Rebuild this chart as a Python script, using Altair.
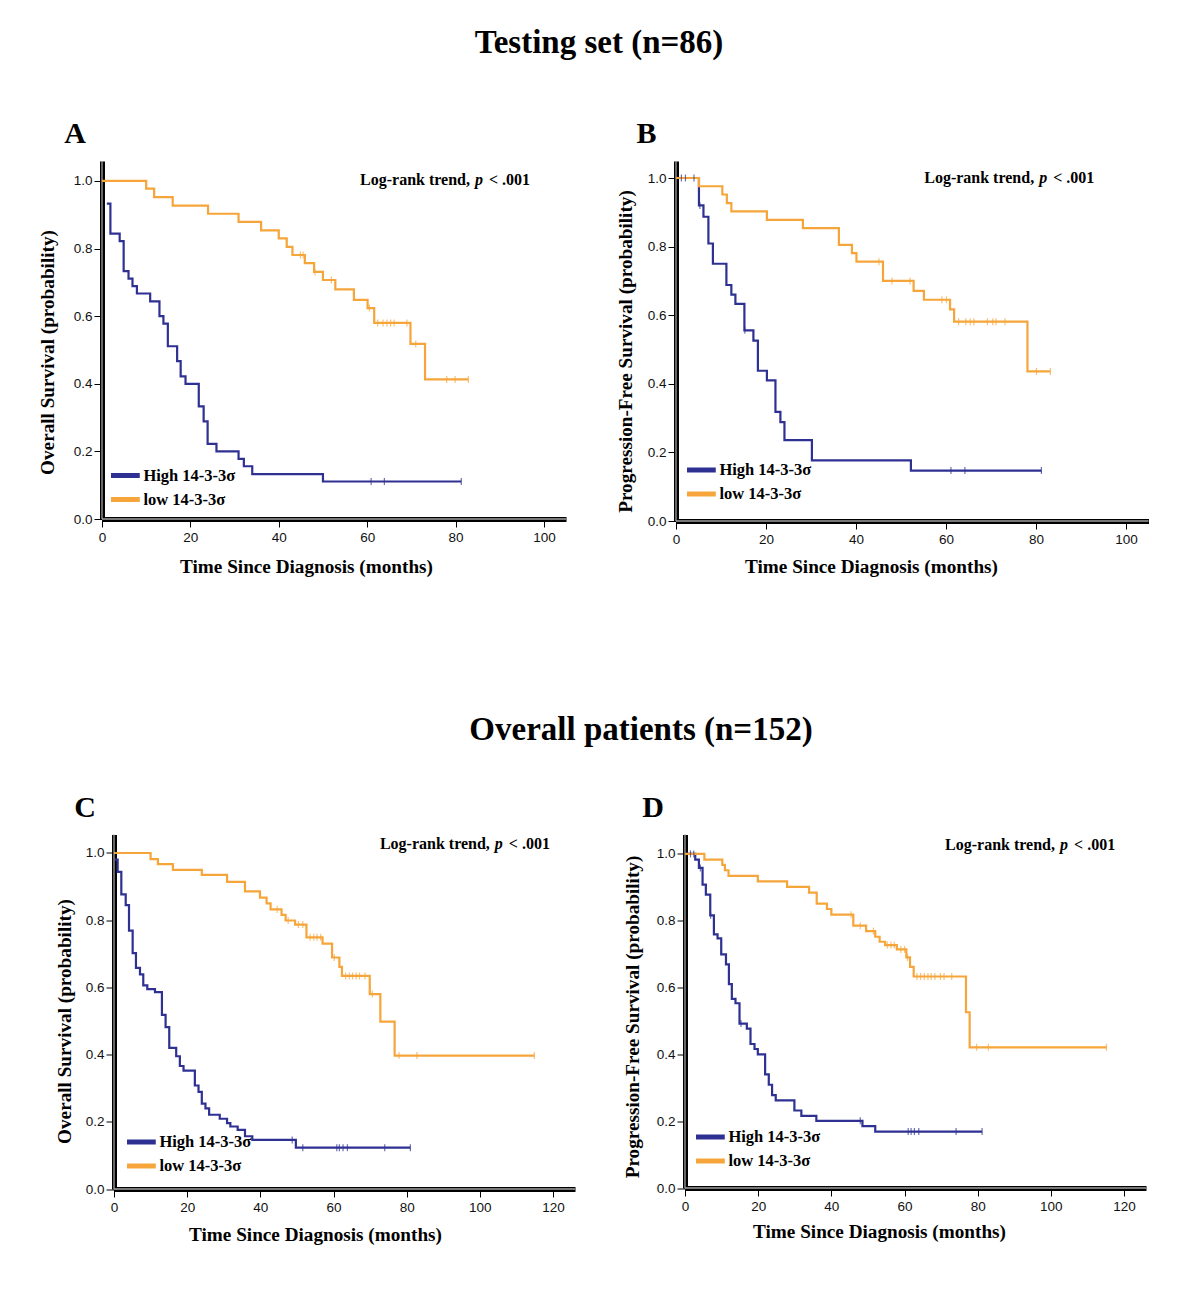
import altair as alt
import pandas as pd

GROUPS = ["High 14-3-3σ", "low 14-3-3σ"]
LINE_COLORS = ["#2e3192", "#f5a53a"]
SERIF = "Liberation Serif"
SANS = "Liberation Sans"

# ---------------- Panel A : Testing set, Overall survival ----------------
A_HIGH_T = [1.1, 1.9, 4.0, 4.9, 6.0, 6.9, 7.9, 10.9, 13.0, 13.9, 14.9, 17.0, 17.8, 18.9,
            21.9, 23.0, 23.9, 25.9, 30.9, 32.1, 34.0, 50.0]
A_HIGH_S = [0.933, 0.844, 0.822, 0.733, 0.711, 0.689, 0.667, 0.644, 0.600, 0.578, 0.511,
            0.467, 0.422, 0.400, 0.333, 0.289, 0.222, 0.200, 0.178, 0.156, 0.133, 0.111]
A_HIGH_END = 81.3
A_HIGH_CENS = [60.9, 63.9, 81.3]
A_LOW_T = [0, 10.0, 11.8, 16.0, 24.0, 30.9, 36.0, 40.0, 41.8, 43.1, 45.9, 48.0, 50.0, 52.8,
           57.0, 60.1, 61.6, 69.8, 73.1]
A_LOW_S = [1.0, 0.977, 0.952, 0.927, 0.903, 0.879, 0.854, 0.830, 0.805, 0.781, 0.757, 0.731,
           0.707, 0.679, 0.648, 0.624, 0.580, 0.518, 0.413]
A_LOW_END = 82.9
A_LOW_CENS = [44.9, 45.5, 48.2, 51.9, 60.5, 62.4, 63.6, 64.5, 65.3, 66.1, 69.0, 71.0, 78.0,
              79.9, 82.9]

# ---------------- Panel B : Testing set, Progression-free survival ----------------
B_HIGH_T = [0, 5.1, 6.1, 7.2, 8.2, 11.2, 12.3, 13.2, 15.2, 17.2, 18.2, 20.2, 22.1, 23.2,
            24.1, 30.2, 52.2]
B_HIGH_S = [1.0, 0.920, 0.887, 0.809, 0.750, 0.688, 0.660, 0.633, 0.556, 0.526, 0.438,
            0.410, 0.318, 0.288, 0.236, 0.177, 0.147]
B_HIGH_END = 81.2
B_HIGH_CENS = [1.2, 2.1, 4.0, 5.3, 15.3, 61.1, 64.2, 81.2]
B_LOW_T = [0, 5.1, 10.3, 11.3, 12.3, 20.2, 28.2, 36.2, 39.1, 40.1, 46.0, 52.8, 55.1, 60.9,
           61.8, 78.1]
B_LOW_S = [1.0, 0.976, 0.952, 0.927, 0.903, 0.878, 0.854, 0.805, 0.781, 0.756, 0.700,
           0.671, 0.645, 0.617, 0.581, 0.436]
B_LOW_END = 83.2
B_LOW_CENS = [45.1, 48.0, 52.0, 59.1, 60.1, 62.8, 64.4, 65.4, 66.2, 69.2, 70.4, 71.1, 73.1,
              80.1, 83.2]

# ---------------- Panel C : Overall patients, Overall survival ----------------
C_HIGH_T = [0.3, 1.0, 2.0, 3.2, 4.1, 5.1, 6.0, 7.1, 8.0, 9.1, 11.2, 13.1, 14.1, 15.1, 17.0,
            18.0, 19.0, 22.1, 23.1, 24.0, 25.0, 26.0, 28.9, 30.9, 31.8, 33.8, 35.8, 37.8, 49.7]
C_HIGH_S = [0.980, 0.944, 0.877, 0.845, 0.769, 0.702, 0.658, 0.639, 0.606, 0.595, 0.586,
            0.518, 0.482, 0.420, 0.395, 0.366, 0.352, 0.308, 0.289, 0.254, 0.240, 0.221,
            0.209, 0.196, 0.186, 0.176, 0.157, 0.146, 0.123]
C_HIGH_END = 81.0
C_HIGH_CENS = [48.7, 51.6, 60.9, 61.6, 62.6, 63.8, 74.0, 81.0]
C_LOW_T = [0, 10.0, 12.0, 16.1, 24.0, 30.9, 35.8, 39.9, 41.7, 42.8, 45.8, 46.9, 49.5, 52.6,
           57.0, 59.6, 61.6, 62.3, 69.9, 72.8, 76.7]
C_LOW_S = [1.0, 0.982, 0.967, 0.950, 0.935, 0.914, 0.886, 0.867, 0.850, 0.832, 0.816, 0.799,
           0.787, 0.749, 0.730, 0.689, 0.661, 0.634, 0.580, 0.498, 0.397]
C_LOW_END = 114.9
C_LOW_CENS = [44.6, 47.6, 50.4, 51.6, 53.6, 54.6, 55.5, 56.5, 60.2, 63.3, 64.3, 65.2, 66.2,
              67.1, 68.6, 70.6, 77.9, 82.8, 114.9]

# ---------------- Panel D : Overall patients, Progression-free survival ----------------
D_HIGH_T = [0, 2.8, 3.8, 4.8, 5.7, 6.9, 7.9, 8.9, 9.9, 11.2, 12.0, 12.8, 13.8, 14.9, 16.9,
            17.9, 19.0, 19.9, 21.9, 22.9, 23.8, 24.8, 29.9, 31.8, 35.9, 48.5, 52.0]
D_HIGH_S = [1.0, 0.983, 0.958, 0.908, 0.878, 0.816, 0.759, 0.747, 0.699, 0.669, 0.610,
            0.566, 0.553, 0.492, 0.477, 0.431, 0.416, 0.400, 0.340, 0.309, 0.278, 0.262,
            0.232, 0.216, 0.201, 0.185, 0.169]
D_HIGH_END = 81.2
D_HIGH_CENS = [1.5, 2.4, 4.2, 7.0, 15.3, 47.9, 61.0, 61.8, 62.7, 63.9, 74.1, 81.2]
D_LOW_T = [0, 5.3, 10.2, 10.9, 11.9, 19.9, 27.9, 33.9, 36.0, 38.8, 40.0, 46.0, 49.5, 52.0,
           53.2, 54.7, 57.9, 60.5, 61.5, 62.5, 76.8, 77.8]
D_LOW_S = [1.0, 0.983, 0.967, 0.951, 0.934, 0.918, 0.901, 0.884, 0.851, 0.835, 0.818, 0.785,
           0.769, 0.752, 0.737, 0.727, 0.714, 0.690, 0.662, 0.633, 0.526, 0.421]
D_LOW_END = 115.2
D_LOW_CENS = [45.4, 47.9, 51.5, 55.3, 56.3, 57.2, 59.0, 60.0, 60.8, 63.4, 64.4, 65.4, 66.4,
              67.3, 68.3, 69.8, 70.8, 72.9, 79.7, 82.9, 115.2]

Y_TICKS = [0.0, 0.2, 0.4, 0.6, 0.8, 1.0]
X_TICKS_AB = [0, 20, 40, 60, 80, 100]
X_TICKS_CD = [0, 20, 40, 60, 80, 100, 120]
X_TITLE = "Time Since Diagnosis (months)"
OS_TITLE = "Overall Survival (probability)"
PFS_TITLE = "Progression-Free Survival (probability)"
LOGRANK = ["Log-rank trend,", "p", "< .001"]


def steps(times, surv, end, group):
    t = list(times) + [end]
    s = list(surv) + [surv[-1]]
    return pd.DataFrame({"t": t, "s": s, "g": group, "o": list(range(len(t)))})


def censors(times, surv, cens, group):
    vals = []
    for c in cens:
        v = surv[0]
        for ti, si in zip(times, surv):
            if ti <= c:
                v = si
        vals.append(v)
    return pd.DataFrame({"t": cens, "s": vals, "g": group})


def panel(letter, ytitle, high, low, xmax, xticks, ymax, width, height, p, title=None):
    lines = pd.concat([steps(*high[:3], GROUPS[0]), steps(*low[:3], GROUPS[1])])
    cens = pd.concat([censors(high[0], high[1], high[3], GROUPS[0]),
                      censors(low[0], low[1], low[3], GROUPS[1])])
    off = p["off"]
    xs = alt.Scale(domain=[0, xmax], nice=False, zero=False, range=[off, width])
    ys = alt.Scale(domain=[0, ymax], nice=False, zero=False)
    xax = alt.Axis(values=xticks, title=X_TITLE, titleX=p["xtx"] + off, titleY=p["xty"],
                   titleBaseline="middle", labelPadding=3)
    yax = alt.Axis(values=Y_TICKS, format=".1f", title=ytitle, titleX=p["ytx"],
                   titleY=p["yty"], titleBaseline="middle", labelPadding=2, offset=-off)
    cscale = alt.Scale(domain=GROUPS, range=LINE_COLORS)
    line = alt.Chart(lines).mark_line(interpolate="step-after", strokeWidth=2.2).encode(
        x=alt.X("t:Q", scale=xs, axis=xax),
        y=alt.Y("s:Q", scale=ys, axis=yax),
        color=alt.Color("g:N", scale=cscale, legend=alt.Legend(
            title=None, orient="none", legendX=p["lx"] + off + 2.9, legendY=p["ly"] + 2.5,
            symbolType="M-1.25,0H1.25", symbolSize=529, symbolStrokeWidth=5,
            labelFont=SERIF, labelFontWeight="bold", labelFontSize=16.5,
            labelColor="black", labelOffset=4, rowPadding=0, padding=0,
            labelLimit=300)),
        order="o:Q",
    )
    ticks = alt.Chart(cens).mark_tick(orient="vertical", size=7, thickness=1.2).encode(
        x="t:Q", y="s:Q",
        color=alt.Color("g:N", scale=cscale, legend=None),
    )
    one = pd.DataFrame({"k": [0]})
    vrule = alt.Chart(one).mark_rule(color="#a0a0a0", strokeWidth=1.3).encode(
        x=alt.datum(0), y=alt.datum(0), y2=alt.datum(ymax))
    hrule = alt.Chart(one).mark_rule(color="#a0a0a0", strokeWidth=1.3).encode(
        y=alt.datum(0), x=alt.datum(0), x2=alt.datum(xmax))
    tstyle = dict(font=SERIF, fontWeight="bold", fontSize=16, baseline="middle", color="black")
    t1 = alt.Chart(one).mark_text(text=LOGRANK[0], align="right", dx=-5, **tstyle).encode(
        x=alt.datum(p["lrx"]), y=alt.datum(p["lry"]))
    t2 = alt.Chart(one).mark_text(text=LOGRANK[1], align="left", fontStyle="italic",
                                  **tstyle).encode(x=alt.datum(p["lrx"]), y=alt.datum(p["lry"]))
    t3 = alt.Chart(one).mark_text(text=LOGRANK[2], align="left", dx=14, **tstyle).encode(
        x=alt.datum(p["lrx"]), y=alt.datum(p["lry"]))
    lab = alt.Chart(one).mark_text(text=letter, font=SERIF, fontWeight="bold", fontSize=30,
                                   align="center", baseline="middle", color="black").encode(
        x=alt.datum(p["lbx"]), y=alt.datum(p["lby"]))
    ch = alt.layer(vrule, hrule, line, ticks, t1, t2, t3, lab).properties(
        width=width, height=height)
    if title is not None:
        ch = ch.properties(title=alt.TitleParams(
            text=title, anchor="start", align="center", frame="group", font=SERIF,
            fontSize=33, fontWeight="bold", color="black", baseline="middle",
            dx=p["tdx"], offset=p["tof"]))
    return ch


pA = panel("A", OS_TITLE, (A_HIGH_T, A_HIGH_S, A_HIGH_END, A_HIGH_CENS),
           (A_LOW_T, A_LOW_S, A_LOW_END, A_LOW_CENS), 105, X_TICKS_AB, 1.059, 464, 358,
           dict(off=0, xtx=204, xty=47, ytx=-55, yty=191, lx=6.5, ly=298, lrx=84.4,
                lry=1.003, lbx=-6.1, lby=1.139, tdx=497, tof=43),
           title="Testing set (n=86)")
pB = panel("B", PFS_TITLE, (B_HIGH_T, B_HIGH_S, B_HIGH_END, B_HIGH_CENS),
           (B_LOW_T, B_LOW_S, B_LOW_END, B_LOW_CENS), 105, X_TICKS_AB, 1.0496, 472.5, 360,
           dict(off=0, xtx=195, xty=45, ytx=-51, yty=190, lx=8.5, ly=292.5, lrx=80.7,
                lry=1.0, lbx=-6.56, lby=1.128))
pC = panel("C", OS_TITLE, (C_HIGH_T, C_HIGH_S, C_HIGH_END, C_HIGH_CENS),
           (C_LOW_T, C_LOW_S, C_LOW_END, C_LOW_CENS), 126, X_TICKS_CD, 1.055, 473, 354.5,
           dict(off=12, xtx=201, xty=45, ytx=-50, yty=186.5, lx=10.5, ly=291, lrx=104.1,
                lry=1.027, lbx=-7.9, lby=1.134, tdx=539, tof=29.5),
           title="Overall patients (n=152)")
pD = panel("D", PFS_TITLE, (D_HIGH_T, D_HIGH_S, D_HIGH_END, D_HIGH_CENS),
           (D_LOW_T, D_LOW_S, D_LOW_END, D_LOW_CENS), 126, X_TICKS_CD, 1.058, 470, 353.5,
           dict(off=9, xtx=194, xty=43, ytx=-53, yty=182, lx=8.5, ly=286, lrx=102.5,
                lry=1.027, lbx=-8.75, lby=1.138))

chart = alt.concat(pA, pB, pC, pD, columns=2, spacing={"row": 313.5, "column": 101},
                   bounds="flush").resolve_scale(color="independent").resolve_legend(
    color="independent").configure_view(stroke=None).configure_axis(
    domainColor="black", domainWidth=5, tickColor="black", tickSize=8, tickWidth=1,
    labelFont=SANS, labelFontSize=13.5, labelColor="#111", titleFont=SERIF,
    titleFontWeight="bold", titleFontSize=19.2, titleColor="black", grid=False,
    labelOverlap=False, labelFlush=False).properties(
    padding={"left": 30, "top": 18, "right": 8, "bottom": 8}, background="white")

chart.save("out.html", embed_options={"renderer": "svg", "actions": False})
